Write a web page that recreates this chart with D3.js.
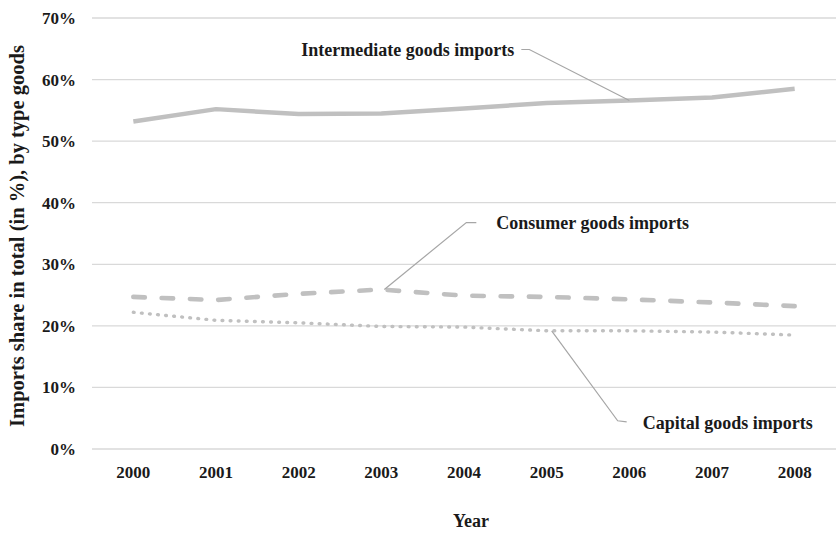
<!DOCTYPE html>
<html>
<head>
<meta charset="utf-8">
<script src="https://cdn.jsdelivr.net/npm/d3@7"></script>
<style>
  html, body { margin: 0; padding: 0; background: #fff; }
  svg text { font-family: "Liberation Serif", "Times New Roman", serif; fill: #1a1a1a; }
</style>
</head>
<body>
<svg id="chart" width="836" height="533"></svg>
<script>
const years = ["2000","2001","2002","2003","2004","2005","2006","2007","2008"];
const intermediate = [53.2, 55.2, 54.4, 54.5, 55.3, 56.2, 56.6, 57.1, 58.5];
const consumer     = [24.7, 24.2, 25.2, 25.9, 24.9, 24.7, 24.3, 23.8, 23.2];
const capital      = [22.2, 20.9, 20.5, 19.9, 19.8, 19.2, 19.2, 19.0, 18.5];
const yTicks = [0, 10, 20, 30, 40, 50, 60, 70];
const seriesNames = ["Intermediate goods imports", "Consumer goods imports", "Capital goods imports"];

const svg = d3.select("#chart");
const plotLeft = 92, plotRight = 836, plotTop = 18, plotBottom = 449;

const x = d3.scaleBand().domain(years).range([plotLeft, plotRight]).padding(0);
const y = d3.scaleLinear().domain([0, 70]).range([plotBottom, plotTop]);
const cx = d => x(d) + x.bandwidth() / 2;

// gridlines
svg.append("g").selectAll("line").data(yTicks).join("line")
  .attr("x1", plotLeft).attr("x2", plotRight)
  .attr("y1", d => y(d)).attr("y2", d => y(d))
  .attr("stroke", "#d9d9d9").attr("stroke-width", 1.3);

// y axis labels
const yAxis = d3.axisLeft(y).tickValues(yTicks).tickFormat(d => d + "%").tickSize(0).tickPadding(0);
const ya = svg.append("g").attr("transform", `translate(76,0)`).call(yAxis);
ya.select(".domain").remove();
ya.selectAll("text").attr("font-size", 17).attr("font-weight", "bold")
  .style("font-family", "Liberation Serif").attr("fill", "#1a1a1a");

// x axis labels
const xAxis = d3.axisBottom(x).tickSize(0).tickPadding(0);
const xa = svg.append("g").attr("transform", `translate(0,466)`).call(xAxis);
xa.select(".domain").remove();
xa.selectAll("text").attr("font-size", 17).attr("font-weight", "bold")
  .style("font-family", "Liberation Serif").attr("fill", "#1a1a1a");

// axis titles
svg.append("text").attr("transform", `translate(24,236) rotate(-90)`)
  .attr("text-anchor", "middle").attr("font-size", 20.5).attr("font-weight", "bold")
  .text("Imports share in total (in %), by type goods");
svg.append("text").attr("x", 471).attr("y", 527)
  .attr("text-anchor", "middle").attr("font-size", 18).attr("font-weight", "bold")
  .text("Year");

// lines
const line = d3.line().x((d, i) => cx(years[i])).y(d => y(d));
const lineColor = "#c0c0c0";
svg.append("path").attr("d", line(intermediate)).attr("fill", "none")
  .attr("stroke", lineColor).attr("stroke-width", 4.5).attr("stroke-linejoin", "round");
svg.append("path").attr("d", line(consumer)).attr("fill", "none")
  .attr("stroke", lineColor).attr("stroke-width", 4.6)
  .attr("stroke-dasharray", "11.5,16.8").attr("stroke-linecap", "round");
svg.append("path").attr("d", line(capital)).attr("fill", "none")
  .attr("stroke", lineColor).attr("stroke-width", 3.4)
  .attr("stroke-dasharray", "0.8,7.3").attr("stroke-linecap", "round");

// annotations with leader lines
const leaderColor = "#a6a6a6";
function annotate(px, py, pts, label, tx, ty, anchor) {
  const path = d3.line()([[px, py], ...pts]);
  svg.append("path").attr("d", path).attr("fill", "none")
    .attr("stroke", leaderColor).attr("stroke-width", 1.2);
  svg.append("text").attr("x", tx).attr("y", ty).attr("text-anchor", anchor)
    .attr("font-size", 18).attr("font-weight", "bold").text(label);
}
// Intermediate (anchored at 2006)
{
  const px = cx("2006"), py = y(intermediate[6]);
  annotate(px, py, [[px - 100, py - 51], [px - 108, py - 51]], seriesNames[0], px - 115, py - 45, "end");
}
// Consumer (anchored at 2003)
{
  const px = cx("2003") + 3, py = y(consumer[3]);
  annotate(px, py, [[px + 82, py - 67], [px + 92, py - 67]], seriesNames[1], px + 112, py - 61, "start");
}
// Capital (anchored at 2005)
{
  const px = cx("2005") + 5, py = y(capital[5]);
  annotate(px, py, [[px + 66, py + 90], [px + 75, py + 91]], seriesNames[2], px + 91, py + 98, "start");
}
</script>
</body>
</html>
